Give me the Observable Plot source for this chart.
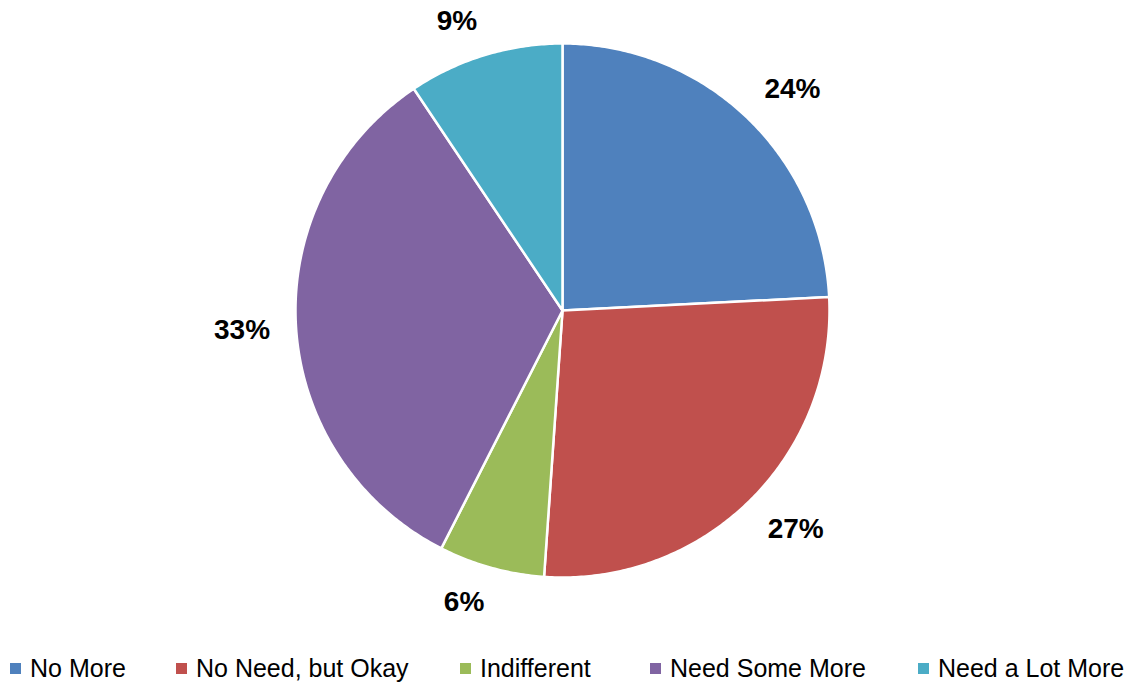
<!DOCTYPE html>
<html><head><meta charset="utf-8">
<script src="https://cdn.jsdelivr.net/npm/d3@7"></script>
<script src="https://cdn.jsdelivr.net/npm/@observablehq/plot@0.6"></script>
<style>
body{margin:0;background:#fff;font-family:"Liberation Sans",Arial,sans-serif;}
#wrap{position:relative;width:1132px;height:683px;}
#legend{position:absolute;left:0;top:654px;width:1132px;height:30px;}
.item{position:absolute;top:0;display:flex;align-items:center;font-size:25px;color:#000;white-space:nowrap;}
.sw{width:11px;height:11px;margin-right:9px;}
</style></head>
<body><div id="wrap"><div id="chart"></div><div id="legend"></div></div>
<script>
const categories = ["No More","No Need, but Okay","Indifferent","Need Some More","Need a Lot More"];
const values = [24.2, 26.9, 6.4, 33.1, 9.4];
const labels = ["24%","27%","6%","33%","9%"];
const colors = ["#4F81BD","#C0504D","#9BBB59","#8064A2","#4BACC6"];
const legendX = [10, 176, 460, 650, 918];

const R = 267;          // pie radius in px (scale: 1 unit = R px)
const fontSize = 28;
const arcs = d3.pie().sort(null).value(d => d)(values);
const poly = [];
arcs.forEach((a, i) => {
  const n = Math.max(4, Math.ceil((a.endAngle - a.startAngle) / 0.01));
  poly.push({cat: categories[i], x: 0, y: 0});
  for (let k = 0; k <= n; k++) {
    const t = a.startAngle + (a.endAngle - a.startAngle) * k / n;
    poly.push({cat: categories[i], x: Math.sin(t), y: Math.cos(t)});
  }
  poly.push({cat: categories[i], x: 0, y: 0});
});
// outside-end label placement: label box sits just outside the arc at its mid-angle
const textW = s => [...s].reduce((w, c) => w + (c === "%" ? 0.889 : 0.556), 0) * fontSize;
const clamp = t => Math.max(-1, Math.min(1, t));
const labelData = arcs.map((a, i) => {
  const m = (a.startAngle + a.endAngle) / 2;
  const s = Math.sin(m), c = Math.cos(m);
  const px = (R + 26) * s + clamp(4 * s) * textW(labels[i]) / 2;
  const py = (R + 24) * c + clamp(4 * c) * 11;
  return {label: labels[i], x: px / R, y: py / R};
});

const chart = Plot.plot({
  width: 1132, height: 645,
  marginLeft: 295, marginRight: 303, marginTop: 43, marginBottom: 68,
  x: {domain: [-1, 1], axis: null},
  y: {domain: [-1, 1], axis: null},
  color: {domain: categories, range: colors},
  marks: [
    Plot.line(poly, {x: "x", y: "y", z: "cat", fill: "cat", stroke: "white", strokeWidth: 2.5, strokeLinejoin: "round", curve: "linear"}),
    Plot.text(labelData, {x: "x", y: "y", text: "label", fontSize: fontSize, fontWeight: "bold", fill: "#000", fontFamily: "Liberation Sans, Arial, sans-serif"})
  ],
  style: {background: "white", overflow: "visible"}
});
document.getElementById("chart").appendChild(chart);

const leg = document.getElementById("legend");
categories.forEach((c, i) => {
  const it = document.createElement("div");
  it.className = "item";
  it.style.left = legendX[i] + "px";
  const sw = document.createElement("span");
  sw.className = "sw"; sw.style.background = colors[i];
  it.appendChild(sw);
  it.appendChild(document.createTextNode(c));
  leg.appendChild(it);
});
</script></body></html>
